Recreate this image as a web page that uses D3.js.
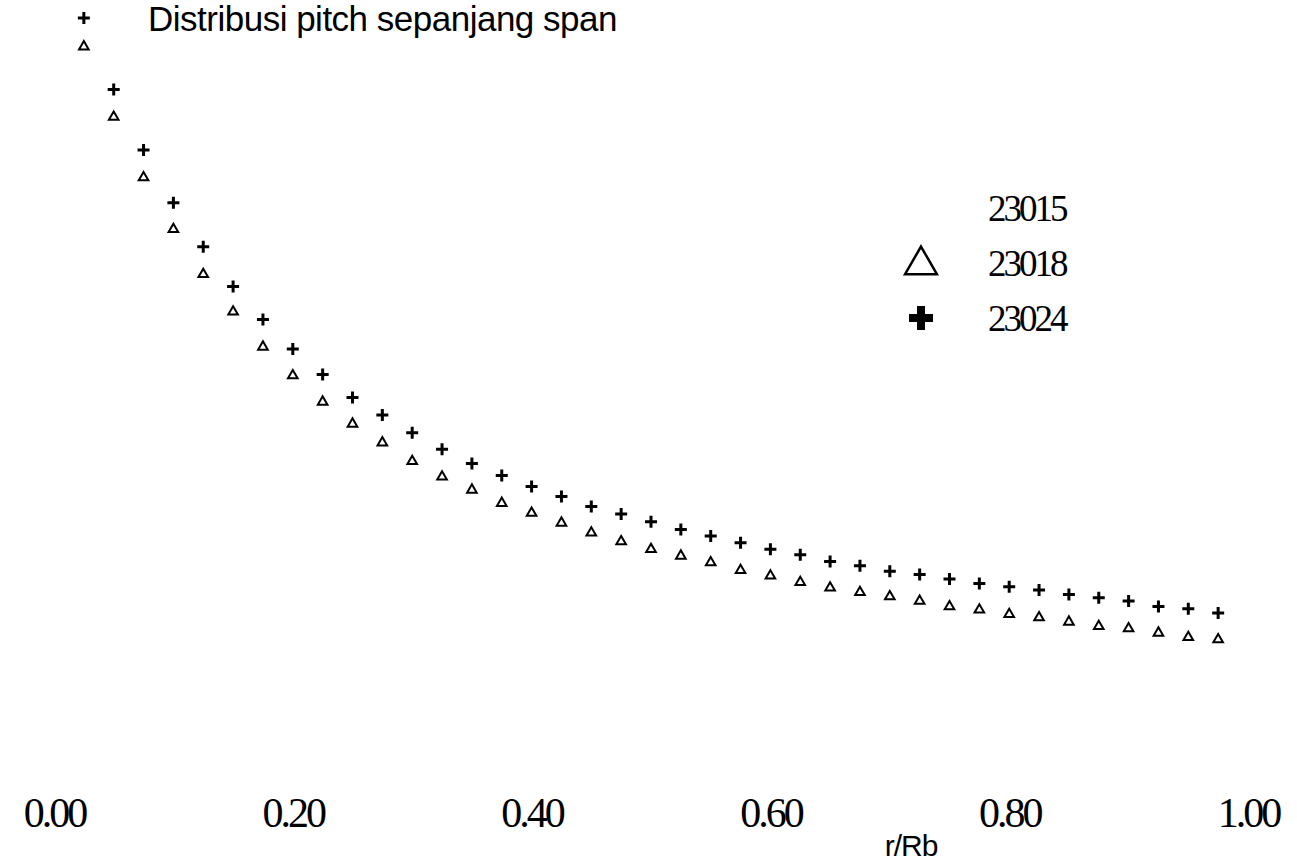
<!DOCTYPE html>
<html>
<head>
<meta charset="utf-8">
<script src="https://cdn.jsdelivr.net/npm/d3@7"></script>
<style>
  body { margin: 0; background: #fff; }
  svg { display: block; }
</style>
</head>
<body>
<div id="chart"></div>
<script>
// r/Rb stations
var rRb = [0.025, 0.05, 0.075, 0.1, 0.125, 0.15, 0.175, 0.2, 0.225, 0.25,
    0.275, 0.3, 0.325, 0.35, 0.375, 0.4, 0.425, 0.45, 0.475, 0.5,
    0.525, 0.55, 0.575, 0.6, 0.625, 0.65, 0.675, 0.7, 0.725, 0.75,
    0.775, 0.8, 0.825, 0.85, 0.875, 0.9, 0.925, 0.95, 0.975];

// pitch (arbitrary units)
var pitch23024 = [62.0, 55.5, 50.0, 45.2, 41.2, 37.6, 34.6, 31.9, 29.6, 27.5,
    25.9, 24.3, 22.8, 21.5, 20.4, 19.4, 18.5, 17.6, 16.9, 16.2,
    15.5, 14.9, 14.3, 13.7, 13.2, 12.6, 12.2, 11.7, 11.4, 11.0,
    10.6, 10.3, 10.0, 9.6, 9.3, 9.0, 8.5, 8.3, 7.9];
var pitch23018 = [59.4, 53.0, 47.5, 42.8, 38.7, 35.3, 32.1, 29.5, 27.1, 25.1,
    23.4, 21.7, 20.3, 19.1, 17.9, 17.0, 16.1, 15.2, 14.4, 13.7,
    13.1, 12.5, 11.8, 11.3, 10.7, 10.2, 9.8, 9.4, 9.0, 8.5,
    8.2, 7.8, 7.5, 7.1, 6.7, 6.5, 6.1, 5.7, 5.5];

var xTicks = [0, 0.2, 0.4, 0.6, 0.8, 1.0];
var legendNames = ['23015', '23018', '23024'];

var width = 1297, height = 866;

var svg = d3.select('#chart').append('svg')
    .attr('width', width)
    .attr('height', height);

var x = d3.scaleLinear().domain([0, 1]).range([54, 1248]);
var y = d3.scaleLinear().domain([0, 60]).range([700, 40]);

// title
svg.append('text')
    .attr('x', 148)
    .attr('y', 31)
    .attr('font-family', 'Liberation Sans, Arial, sans-serif')
    .attr('font-size', 35)
    .attr('letter-spacing', -0.5)
    .text('Distribusi pitch sepanjang span');

// x axis: labels only, no line
var xAxis = svg.append('g')
    .attr('transform', 'translate(0,827)')
    .call(d3.axisBottom(x).tickValues(xTicks).tickFormat(d3.format('.2f')).tickSize(0));
xAxis.select('.domain').remove();
xAxis.selectAll('text')
    .attr('dy', 0)
    .attr('y', 0)
    .attr('font-family', 'Liberation Serif, Times New Roman, serif')
    .attr('font-size', 42)
    .attr('letter-spacing', -3)
    .attr('fill', '#000');

svg.append('text')
    .attr('x', 911)
    .attr('y', 856)
    .attr('text-anchor', 'middle')
    .attr('font-family', 'Liberation Sans, Arial, sans-serif')
    .attr('font-size', 30)
    .attr('letter-spacing', -1)
    .text('r/Rb');

// 23018 triangles
var tri = d3.symbol().type(d3.symbolTriangle).size(40);
svg.append('g').selectAll('path')
    .data(rRb.map(function (d, i) { return [d, pitch23018[i]]; }))
    .join('path')
    .attr('d', tri)
    .attr('transform', function (d) { return `translate(${x(d[0])},${y(d[1])})`; })
    .attr('fill', 'none')
    .attr('stroke', '#000')
    .attr('stroke-width', 2);

// 23024 plus marks
function plusPath(s) {
    return `M${-s},0H${s}M0,${-s}V${s}`;
}
svg.append('g').selectAll('path')
    .data(rRb.map(function (d, i) { return [d, pitch23024[i]]; }))
    .join('path')
    .attr('d', plusPath(6))
    .attr('transform', function (d) { return `translate(${x(d[0])},${y(d[1])})`; })
    .attr('stroke', '#000')
    .attr('stroke-width', 3);

// legend
var legend = svg.append('g');
legend.selectAll('text')
    .data(legendNames)
    .join('text')
    .attr('x', 988)
    .attr('y', function (d, i) { return 221 + i * 55; })
    .attr('font-family', 'Liberation Serif, Times New Roman, serif')
    .attr('font-size', 37)
    .attr('letter-spacing', -3)
    .text(function (d) { return d; });

legend.append('path')
    .attr('d', d3.symbol().type(d3.symbolTriangle).size(440))
    .attr('transform', 'translate(921,265)')
    .attr('fill', 'none')
    .attr('stroke', '#000')
    .attr('stroke-width', 2.5);

legend.append('path')
    .attr('d', plusPath(12))
    .attr('transform', 'translate(921,318)')
    .attr('stroke', '#000')
    .attr('stroke-width', 8);
</script>
</body>
</html>
